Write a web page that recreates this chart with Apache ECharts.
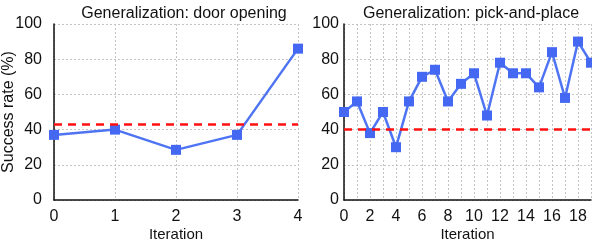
<!DOCTYPE html>
<html><head><meta charset="utf-8">
<script src="https://cdn.jsdelivr.net/npm/echarts@6/dist/echarts.min.js"></script>
<style>html,body{margin:0;padding:0;background:#fff}#c{width:592px;height:240px}</style>
</head><body><div id="c"></div>
<script>
var doorIter = [0, 1, 2, 3, 4];
var doorRate = [37, 40, 28.5, 37, 86];
var doorBaseline = 43;
var pickIter = [0,1,2,3,4,5,6,7,8,9,10,11,12,13,14,15,16,17,18,19];
var pickRate = [50,56,38,50,30,56,70,74,56,66,72,48,78,72,72,64,84,58,90,78];
var pickBaseline = 40;
var yTicks = [0, 20, 40, 60, 80, 100];
var titles = ['Generalization: door opening', 'Generalization: pick-and-place'];

var F = 'Liberation Sans, Arial, sans-serif';
var blue = '#4468f2';
function xAxis(gi, max, labelEvery) {
  return {
    type: 'value', gridIndex: gi, min: 0, max: max, interval: 1,
    name: 'Iteration', nameLocation: 'middle', nameGap: 27, nameMoveOverlap: false,
    nameTextStyle: {fontFamily: F, fontSize: 15, color: '#111'},
    axisLine: {show: true, lineStyle: {color: '#111', width: 1.5}},
    axisTick: {show: false},
    axisLabel: {fontFamily: F, fontSize: 16, color: '#111', margin: 9, hideOverlap: false,
      formatter: function (v) { return v % labelEvery === 0 ? String(v) : ''; }},
    splitLine: {show: true, lineStyle: {color: '#c4c4c4', type: [2, 2], width: 1}}
  };
}
function yAxis(gi, name, margin) {
  return {
    type: 'value', gridIndex: gi, min: yTicks[0], max: yTicks[yTicks.length - 1], interval: 20,
    name: name, nameLocation: 'middle', nameGap: 37, nameMoveOverlap: false,
    nameTextStyle: {fontFamily: F, fontSize: 16, color: '#111'},
    axisLine: {show: true, lineStyle: {color: '#111', width: 1.5}},
    axisTick: {show: false},
    axisLabel: {fontFamily: F, fontSize: 16, color: '#111', margin: margin},
    splitLine: {show: true, lineStyle: {color: '#c4c4c4', type: [2, 2], width: 1}}
  };
}
function series(gi, xs, ys, base) {
  return {
    type: 'line', xAxisIndex: gi, yAxisIndex: gi,
    data: xs.map(function (x, i) { return [x, ys[i]]; }),
    symbol: 'rect', symbolSize: 10, lineStyle: {color: '#4f74f3', width: 2.5},
    itemStyle: {color: blue}, z: 3,
    markLine: {silent: true, symbol: 'none', label: {show: false},
      lineStyle: {color: '#ff1010', type: [8, 6], width: 2.5},
      data: [{yAxis: base}]}
  };
}
var chart = echarts.init(document.getElementById('c'));
chart.setOption({
  animation: false,
  title: [
    {text: titles[0], left: 179, top: 1, textAlign: 'center', textStyle: {fontFamily: F, fontSize: 16, fontWeight: 'normal', color: '#111'}},
    {text: titles[1], left: 466, top: 1, textAlign: 'center', textStyle: {fontFamily: F, fontSize: 16, fontWeight: 'normal', color: '#111'}}
  ],
  grid: [
    {left: 54, right: 294, top: 24, bottom: 40, containLabel: false, outerBoundsMode: 'none'},
    {left: 344, right: 1, top: 24, bottom: 40, containLabel: false, outerBoundsMode: 'none'}
  ],
  xAxis: [xAxis(0, 4, 1), xAxis(1, 19, 2)],
  yAxis: [yAxis(0, 'Success rate (%)', 12), yAxis(1, '', 5)],
  series: [series(0, doorIter, doorRate, doorBaseline), series(1, pickIter, pickRate, pickBaseline)]
});
</script></body></html>
